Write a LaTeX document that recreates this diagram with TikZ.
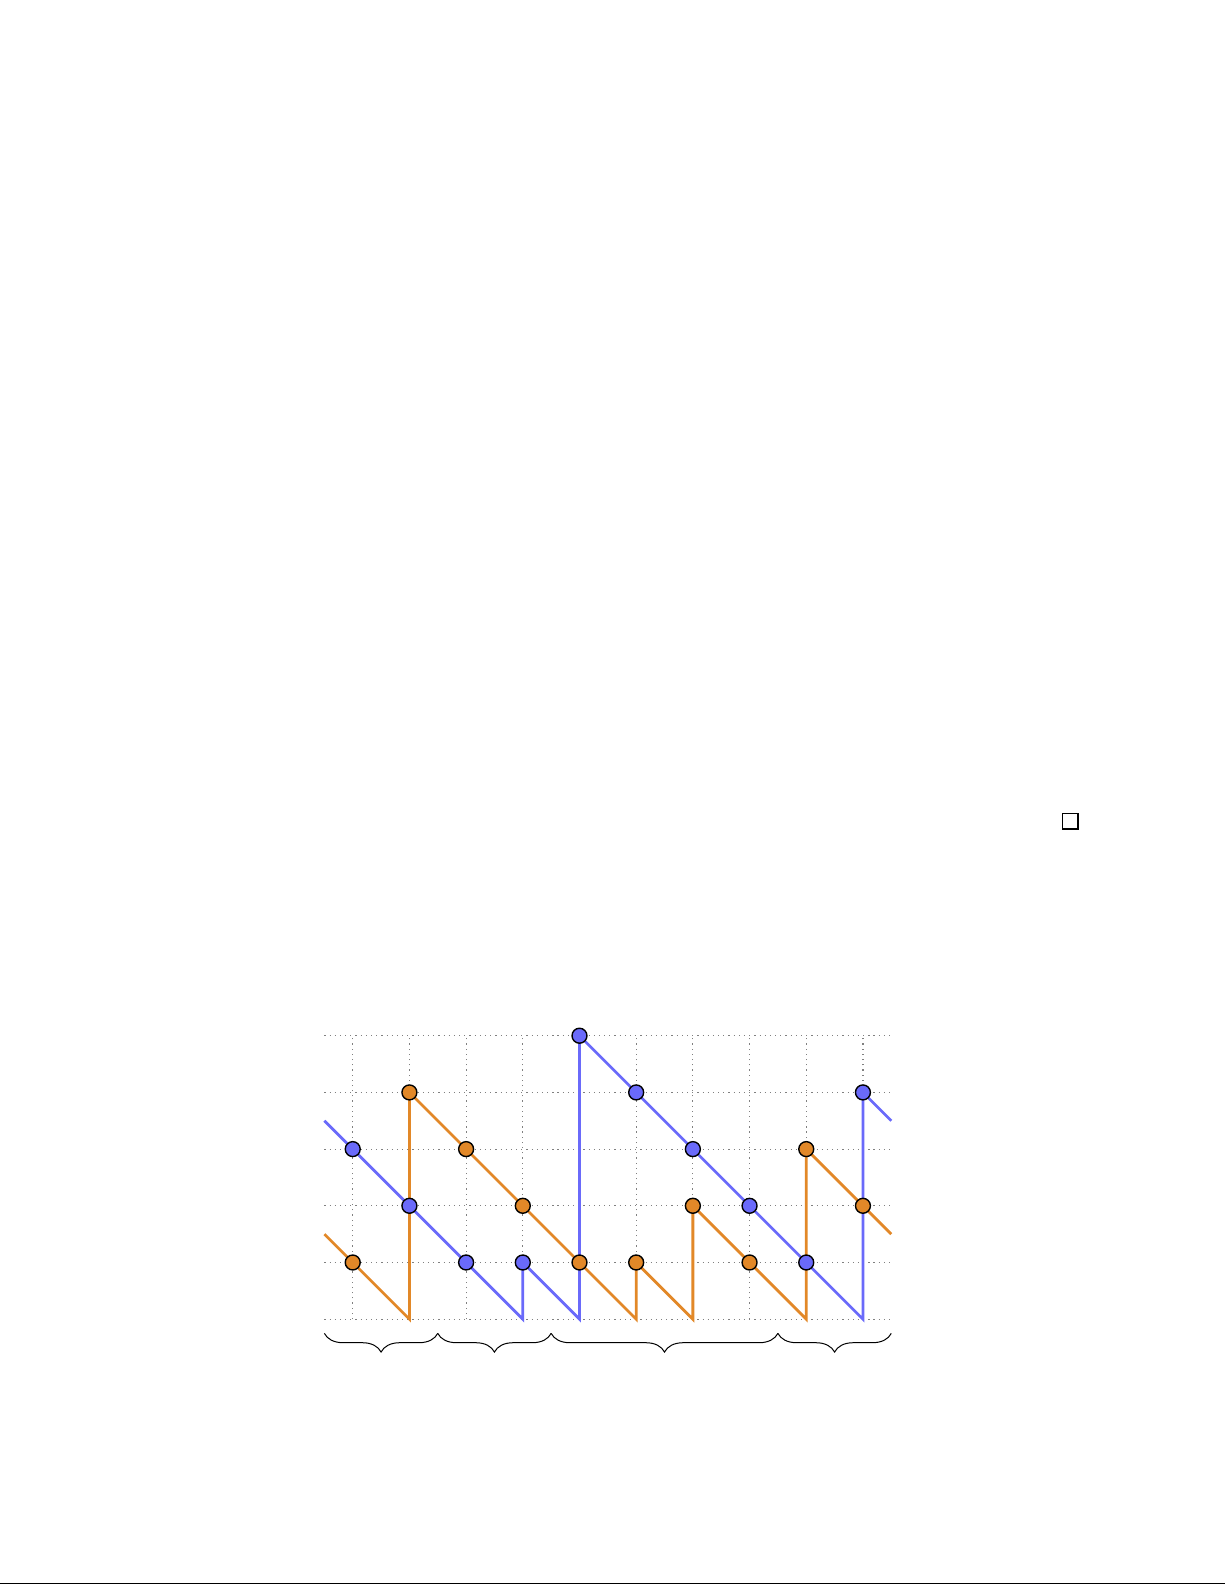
\documentclass[tikz,border=0pt]{standalone}
\usetikzlibrary{decorations.pathreplacing}
\definecolor{bluep}{RGB}{106,106,250}
\definecolor{orangep}{RGB}{226,136,40}
\tikzset{
  gridline/.style={gray, dotted, line width=0.6pt},
  bpath/.style={bluep, line width=1.4pt, line join=miter},
  opath/.style={orangep, line width=1.4pt, line join=miter},
  bdot/.style={circle, draw=black, line width=0.7pt, fill=bluep, minimum size=7.5pt, inner sep=0pt},
  odot/.style={circle, draw=black, line width=0.7pt, fill=orangep, minimum size=7.5pt, inner sep=0pt},
  bracestyle/.style={decorate, decoration={brace, mirror, amplitude=0.33cm}, line width=0.5pt},
  qedbox/.style={draw=black, line width=0.7pt, minimum size=0.27cm, inner sep=0pt}
}
\begin{document}
\begin{tikzpicture}
\useasboundingbox (-6.222,-4.689) rectangle (15.387,23.27);
% grid
\foreach \r in {0,...,5} \draw[gridline] (-0.5,\r) -- (9.5,\r);
\foreach \c in {0,...,9} \draw[gridline] (\c,0) -- (\c,5);
% coordinates
\coordinate (bs) at (-0.5,3.5);
\coordinate (be) at (9.5,3.5);
\coordinate (os) at (-0.5,1.5);
\coordinate (oe) at (9.5,1.5);
\coordinate (b30) at (3,0);
\coordinate (b40) at (4,0);
\coordinate (b90) at (9,0);
\coordinate (o10) at (1,0);
\coordinate (o50) at (5,0);
\coordinate (o60) at (6,0);
\coordinate (o80) at (8,0);
% paths
\draw[bpath] (bs) -- (0,3) -- (1,2) -- (2,1) -- (b30) -- (3,1) -- (b40) -- (4,5) -- (5,4) -- (6,3) -- (7,2) -- (8,1) -- (b90) -- (9,4) -- (be);
\draw[opath] (os) -- (0,1) -- (o10) -- (1,4) -- (2,3) -- (3,2) -- (4,1) -- (o50) -- (5,1) -- (o60) -- (6,2) -- (7,1) -- (o80) -- (8,3) -- (9,2) -- (oe);
% dots
\foreach \p [count=\i] in {(0,3),(1,2),(2,1),(3,1),(4,5),(5,4),(6,3),(7,2),(8,1),(9,4)}
  \node[bdot] (b\i) at \p {};
\foreach \p [count=\i] in {(0,1),(1,4),(2,3),(3,2),(4,1),(5,1),(6,2),(7,1),(8,3),(9,2)}
  \node[odot] (o\i) at \p {};
% braces
\coordinate (k0) at (-0.5,-0.25);
\coordinate (k1) at (1.5,-0.25);
\coordinate (k2) at (3.5,-0.25);
\coordinate (k3) at (7.5,-0.25);
\coordinate (k4) at (9.5,-0.25);
\draw[bracestyle] (k0) -- (k1);
\draw[bracestyle] (k1) -- (k2);
\draw[bracestyle] (k2) -- (k3);
\draw[bracestyle] (k3) -- (k4);
% qed box
\node[qedbox] (qed) at (12.657,8.78) {};
% bottom rule
\coordinate (r0) at (-6.222,-4.666);
\coordinate (r1) at (15.387,-4.666);
\draw[line width=0.7pt] (r0) -- (r1);
\end{tikzpicture}
\end{document}
